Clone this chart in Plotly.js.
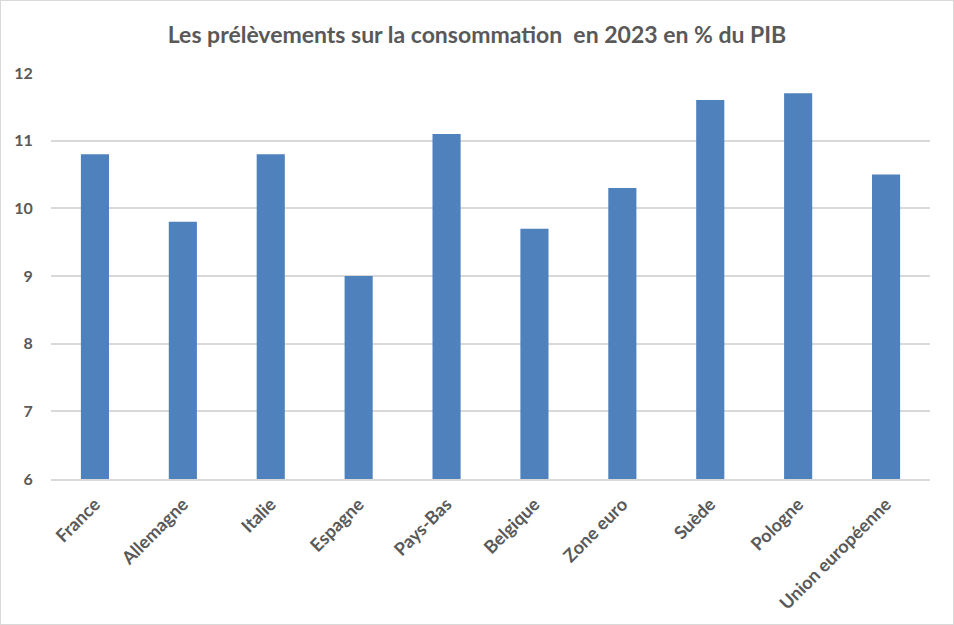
<!DOCTYPE html>
<html>
<head>
<meta charset="utf-8">
<script src="https://cdn.plot.ly/plotly-3.0.1.min.js"></script>
<style>
html,body{margin:0;padding:0;background:#fff;}
#chart{width:952px;height:623px;border:1px solid #d9d9d9;}
</style>
</head>
<body>
<div id="chart"></div>
<script>
const categories = ["France","Allemagne","Italie","Espagne","Pays-Bas","Belgique","Zone euro","Suède","Pologne","Union européenne"];
const values = [10.8, 9.8, 10.8, 9.0, 11.1, 9.7, 10.3, 11.6, 11.7, 10.5];
const yTicks = [6,7,8,9,10,11,12];
const titleText = "Les prélèvements sur la consommation  en 2023 en % du PIB";

const font = "Lato, 'Open Sans', sans-serif";

Plotly.newPlot("chart", [{
  type: "bar",
  x: categories,
  y: values,
  marker: {color: "#4f81bd"},
  hoverinfo: "x+y"
}], {
  width: 952,
  height: 623,
  margin: {l: 50, r: 23, t: 72, b: 145},
  paper_bgcolor: "#fff",
  plot_bgcolor: "#fff",
  bargap: 0.68,
  showlegend: false,
  title: {
    text: titleText,
    font: {family: font, size: 23, color: "#595959", weight: "bold"},
    x: 0.5, xanchor: "center",
    y: 0.945, yanchor: "middle"
  },
  xaxis: {
    tickangle: -45,
    tickfont: {family: font, size: 18, color: "#595959", weight: "bold"},
    showgrid: false,
    showline: true,
    linecolor: "#d9d9d9",
    linewidth: 1.5,
    ticks: "outside",
    ticklen: 6,
    tickcolor: "rgba(0,0,0,0)"
  },
  yaxis: {
    range: [6, 12],
    tickvals: yTicks,
    ticktext: yTicks.map(String),
    tickfont: {family: font, size: 16, color: "#595959", weight: "bold"},
    showgrid: true,
    gridcolor: "#d9d9d9",
    gridwidth: 1.5,
    zeroline: false,
    showline: false,
    ticks: "outside",
    ticklen: 14,
    tickcolor: "rgba(0,0,0,0)"
  }
}, {displayModeBar: false, staticPlot: false});
</script>
</body>
</html>
